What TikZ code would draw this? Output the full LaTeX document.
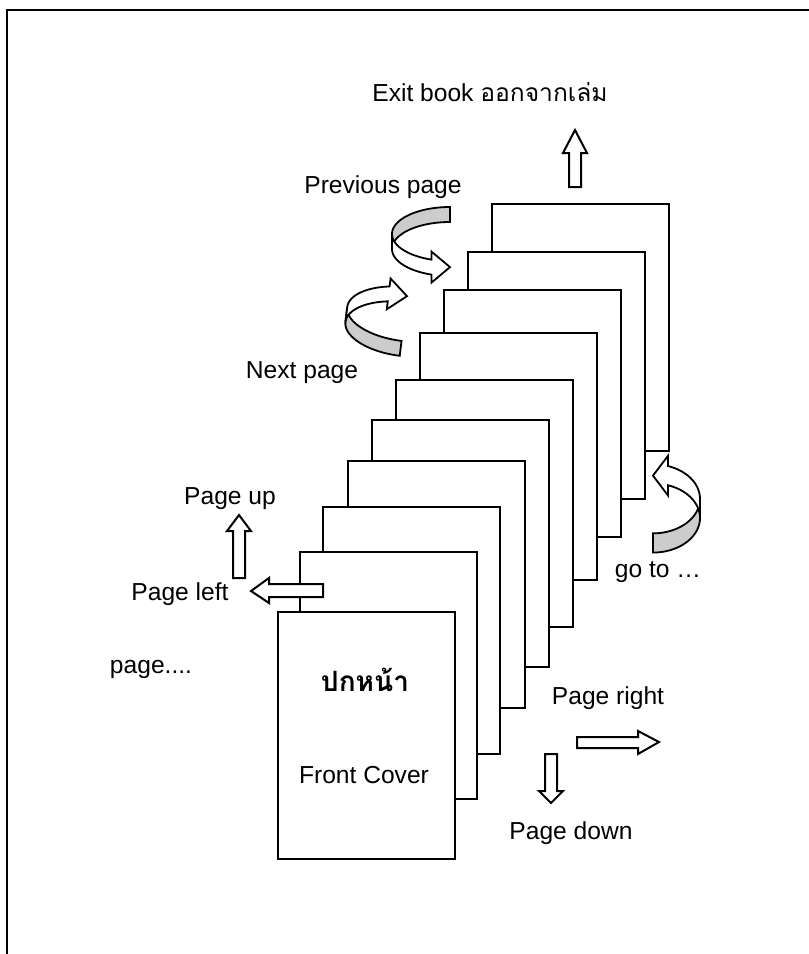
\documentclass[tikz,border=0pt]{standalone}
\usepackage{fontspec}
\setmainfont{Liberation Sans}
\newfontfamily\thaifont[Script=Thai]{Loma}
\usepackage{tikz}
\usetikzlibrary{positioning}

\tikzset{
  pagebox/.style = {draw, fill=white, line width=1pt, anchor=north west,
                    minimum width=88.25pt, minimum height=123.5pt, inner sep=0pt},
  label/.style = {inner sep=0pt, font=\fontsize{12.3}{14.8}\selectfont},
  blockarrow/.style = {draw, fill=white, line width=1pt},
  bandback/.style = {draw, fill=black!20, line width=0.9pt},
  bandfront/.style = {draw, fill=white, line width=0.9pt},
  curvedarrow/.pic = {
    \filldraw[bandback] plot[domain=270:180, samples=40] ({58*cos(\x)},{27*sin(\x)})
      -- plot[domain=180:270, samples=40] ({58*cos(\x)},{15+27*sin(\x)}) -- cycle;
    \filldraw[bandfront] plot[domain=180:108.6, samples=40] ({58*cos(\x)},{27*sin(\x)})
      -- (-18.5,17.6) -- (0,33.1) -- (-18.5,48.6)
      -- plot[domain=108.6:180, samples=40] ({58*cos(\x)},{15+27*sin(\x)}) -- cycle;
  }
}

\begin{document}
\begin{tikzpicture}[x=0.5pt, y=-0.5pt]
  \useasboundingbox (0,0) rectangle (809,954);
  \draw[line width=1pt] (7,970) -- (7,10) -- (820,10);

  % pages, back to front
  \foreach \px/\py [count=\i] in {491/203, 467/251, 443/289, 419/332, 395/379,
                                  371/419, 347/460, 322/506, 299/551}
    \node[pagebox] (page\i) at (\px,\py) {};
  \node[pagebox] (cover) at (277,611) {};
  \node[label, font=\fontsize{14}{17}\selectfont\bfseries\thaifont] (coverth) at (365,680) {ปกหน้า};
  \node[label] (covertext) at (364,775) {Front Cover};

  % straight arrows
  \draw[blockarrow] (575,130) -- (587,153) -- (581,153) -- (581,187) -- (569,187) -- (569,153) -- (563,153) -- cycle;
  \draw[blockarrow] (239,515) -- (251,531) -- (245,531) -- (245,578) -- (233,578) -- (233,531) -- (227,531) -- cycle;
  \draw[blockarrow] (251,591) -- (269,578) -- (269,584) -- (323,584) -- (323,597) -- (269,597) -- (269,603) -- cycle;
  \draw[blockarrow] (659,742) -- (638,754) -- (638,748) -- (577,748) -- (577,737) -- (638,737) -- (638,731) -- cycle;
  \draw[blockarrow] (551,803) -- (539,791) -- (545,791) -- (545,754) -- (557,754) -- (557,791) -- (563,791) -- cycle;

  % curved arrows
  \pic at (450,234) {curvedarrow};
  \pic[rotate=-7, yscale=-1] at (403,329) {curvedarrow};
  \pic[xscale=-0.81, yscale=-1.28] at (653,518) {curvedarrow};

  % labels
  \node[label] (exit) at (490,92) {Exit book {\thaifont ออกจากเล่ม}};
  \node[label] (prev) at (383,187) {Previous page};
  \node[label] (next) at (302,373) {Next page};
  \node[label] (pageup) at (230,499) {Page up};
  \node[label] (pageleft) at (180,594) {Page left};
  \node[label] (pagedots) at (151,669) {page....};
  \node[label] (goto) at (658,572) {go to …};
  \node[label] (pageright) at (608,698) {Page right};
  \node[label] (pagedown) at (571,833) {Page down};
\end{tikzpicture}
\end{document}
